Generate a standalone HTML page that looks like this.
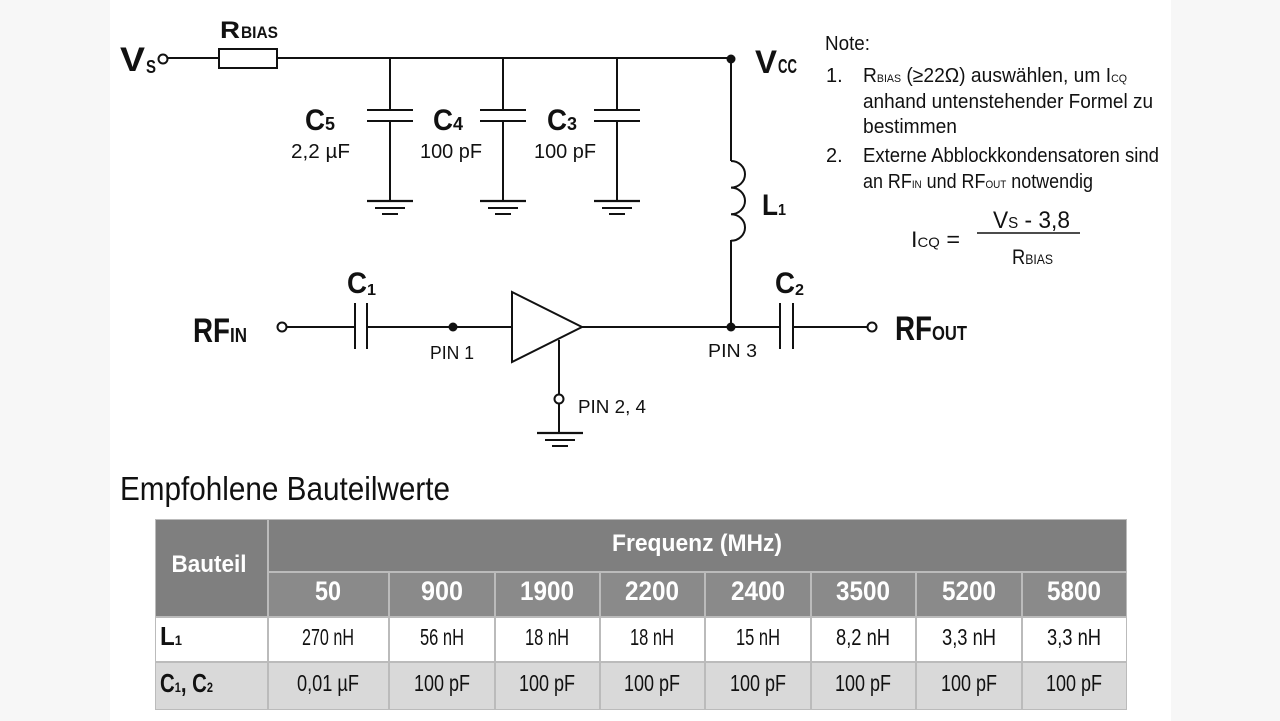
<!DOCTYPE html>
<html><head><meta charset="utf-8"><style>
html,body{margin:0;padding:0;background:#f7f7f7}
svg{display:block}
text{font-family:"Liberation Sans Narrow","Liberation Sans",sans-serif;fill:#111}
.b{font-weight:bold}
</style></head><body>
<svg width="1280" height="721" viewBox="0 0 1280 721" xmlns="http://www.w3.org/2000/svg">
<rect x="0" y="0" width="1280" height="721" fill="#f7f7f7"/>
<rect x="110" y="0" width="1061" height="721" fill="#fff"/>
<g stroke="#111" stroke-width="2" fill="none">
<circle cx="163" cy="59" r="4.5" fill="#fff"/>
<line x1="167.5" y1="58" x2="219" y2="58"/>
<rect x="219" y="49" width="58" height="19" fill="#fff"/>
<line x1="277" y1="58" x2="731" y2="58"/>
<g id="cap">
<line x1="390" y1="58" x2="390" y2="110"/>
<line x1="367" y1="110" x2="413" y2="110"/>
<line x1="367" y1="121" x2="413" y2="121"/>
<line x1="390" y1="121" x2="390" y2="201"/>
<line x1="367" y1="201" x2="413" y2="201" stroke-width="2.2"/>
<line x1="375" y1="208" x2="405" y2="208"/>
<line x1="382" y1="214" x2="398" y2="214"/>
</g>
<use href="#cap" x="113"/>
<use href="#cap" x="227"/>
<line x1="731" y1="58" x2="731" y2="161"/>
<path d="M731,161 a14,13.3 0 0 1 0,26.6 a14,13.3 0 0 1 0,26.6 a14,13.3 0 0 1 0,26.6"/>
<line x1="731" y1="240" x2="731" y2="327"/>
<circle cx="282" cy="327" r="4.5" fill="#fff"/>
<line x1="286.5" y1="327" x2="355" y2="327"/>
<line x1="355" y1="303" x2="355" y2="349"/>
<line x1="367" y1="303" x2="367" y2="349"/>
<line x1="367" y1="327" x2="512" y2="327"/>
<polygon points="512,292 582,327 512,362" fill="#fff"/>
<line x1="582" y1="327" x2="780" y2="327"/>
<line x1="780" y1="303" x2="780" y2="349"/>
<line x1="793" y1="303" x2="793" y2="349"/>
<line x1="793" y1="327" x2="868" y2="327"/>
<circle cx="872" cy="327" r="4.5" fill="#fff"/>
<line x1="559" y1="340" x2="559" y2="395"/>
<circle cx="559" cy="399" r="4.5" fill="#fff"/>
<line x1="559" y1="403.5" x2="559" y2="433"/>
<line x1="537" y1="433" x2="583" y2="433" stroke-width="2.2"/>
<line x1="545" y1="440" x2="575" y2="440"/>
<line x1="552" y1="446" x2="568" y2="446"/>
</g>
<g fill="#111">
<circle cx="731" cy="59" r="4.5"/>
<circle cx="453" cy="327" r="4.5"/>
<circle cx="731" cy="327" r="4.5"/>
</g>
<text x="120" y="71" class="b" font-size="34" textLength="25" lengthAdjust="spacingAndGlyphs">V</text>
<text x="146" y="73" class="b" font-size="18" textLength="10" lengthAdjust="spacingAndGlyphs">S</text>
<text x="220" y="38" class="b" font-size="24" textLength="20" lengthAdjust="spacingAndGlyphs">R</text>
<text x="241" y="38" class="b" font-size="17" textLength="37" lengthAdjust="spacingAndGlyphs">BIAS</text>
<text x="305" y="130" class="b" font-size="30" textLength="20" lengthAdjust="spacingAndGlyphs">C</text>
<text x="325" y="130" class="b" font-size="18" textLength="10" lengthAdjust="spacingAndGlyphs">5</text>
<text x="291" y="158" font-size="20" textLength="59" lengthAdjust="spacingAndGlyphs">2,2 µF</text>
<text x="433" y="130" class="b" font-size="30" textLength="20" lengthAdjust="spacingAndGlyphs">C</text>
<text x="453" y="130" class="b" font-size="18" textLength="10" lengthAdjust="spacingAndGlyphs">4</text>
<text x="420" y="158" font-size="20" textLength="62" lengthAdjust="spacingAndGlyphs">100 pF</text>
<text x="547" y="130" class="b" font-size="30" textLength="20" lengthAdjust="spacingAndGlyphs">C</text>
<text x="567" y="130" class="b" font-size="18" textLength="10" lengthAdjust="spacingAndGlyphs">3</text>
<text x="534" y="158" font-size="20" textLength="62" lengthAdjust="spacingAndGlyphs">100 pF</text>
<text x="755" y="73" class="b" font-size="32" textLength="22" lengthAdjust="spacingAndGlyphs">V</text>
<text x="778" y="73" class="b" font-size="20" textLength="19" lengthAdjust="spacingAndGlyphs">CC</text>
<text x="762" y="215" class="b" font-size="30" textLength="16" lengthAdjust="spacingAndGlyphs">L</text>
<text x="778" y="215" class="b" font-size="16" textLength="8" lengthAdjust="spacingAndGlyphs">1</text>
<text x="347" y="293" class="b" font-size="30" textLength="20" lengthAdjust="spacingAndGlyphs">C</text>
<text x="367" y="295" class="b" font-size="16" textLength="9" lengthAdjust="spacingAndGlyphs">1</text>
<text x="775" y="293" class="b" font-size="30" textLength="20" lengthAdjust="spacingAndGlyphs">C</text>
<text x="795" y="295" class="b" font-size="16" textLength="9" lengthAdjust="spacingAndGlyphs">2</text>
<text x="193" y="342" class="b" font-size="34" textLength="37" lengthAdjust="spacingAndGlyphs">RF</text>
<text x="230" y="342" class="b" font-size="20" textLength="17" lengthAdjust="spacingAndGlyphs">IN</text>
<text x="895" y="340" class="b" font-size="34" textLength="37" lengthAdjust="spacingAndGlyphs">RF</text>
<text x="932" y="340" class="b" font-size="20" textLength="35" lengthAdjust="spacingAndGlyphs">OUT</text>
<text x="430" y="359" font-size="18" textLength="44" lengthAdjust="spacingAndGlyphs">PIN 1</text>
<text x="708" y="357" font-size="18" textLength="49" lengthAdjust="spacingAndGlyphs">PIN 3</text>
<text x="578" y="413" font-size="18" textLength="68" lengthAdjust="spacingAndGlyphs">PIN 2, 4</text>
<text x="825" y="50" font-size="20" textLength="45" lengthAdjust="spacingAndGlyphs">Note:</text>
<text x="826" y="82" font-size="20">1.</text>
<text x="863" y="82" font-size="20" textLength="264" lengthAdjust="spacingAndGlyphs">R<tspan font-size="11">BIAS</tspan> (≥22Ω) auswählen, um I<tspan font-size="11">CQ</tspan></text>
<text x="863" y="108" font-size="20" textLength="290" lengthAdjust="spacingAndGlyphs">anhand  untenstehender Formel zu</text>
<text x="863" y="133" font-size="20" textLength="94" lengthAdjust="spacingAndGlyphs">bestimmen</text>
<text x="826" y="162" font-size="20">2.</text>
<text x="863" y="162" font-size="20" textLength="296" lengthAdjust="spacingAndGlyphs">Externe Abblockkondensatoren sind</text>
<text x="863" y="188" font-size="20" textLength="230" lengthAdjust="spacingAndGlyphs">an RF<tspan font-size="11">IN</tspan> und RF<tspan font-size="11">OUT</tspan> notwendig</text>
<text x="911" y="247" font-size="22" textLength="49" lengthAdjust="spacingAndGlyphs">I<tspan font-size="14">CQ</tspan> =</text>
<line x1="977" y1="233" x2="1080" y2="233" stroke="#111" stroke-width="1.5"/>
<text x="993" y="228" font-size="24" textLength="77" lengthAdjust="spacingAndGlyphs">V<tspan font-size="16">S</tspan> - 3,8</text>
<text x="1012" y="264" font-size="21" textLength="41" lengthAdjust="spacingAndGlyphs">R<tspan font-size="14">BIAS</tspan></text>
<text x="120" y="500" font-size="33" textLength="330" lengthAdjust="spacingAndGlyphs">Empfohlene Bauteilwerte</text>
<rect x="155" y="519" width="972" height="191" fill="#bbb"/>
<rect x="156" y="520" width="111" height="96" fill="#7f7f7f"/>
<rect x="269" y="520" width="857" height="51" fill="#7f7f7f"/>
<g fill="#8a8a8a">
<rect x="269" y="573" width="119" height="43"/>
<rect x="390" y="573" width="104" height="43"/>
<rect x="496" y="573" width="103" height="43"/>
<rect x="601" y="573" width="103" height="43"/>
<rect x="706" y="573" width="104" height="43"/>
<rect x="812" y="573" width="103" height="43"/>
<rect x="917" y="573" width="104" height="43"/>
<rect x="1023" y="573" width="103" height="43"/>
</g>
<g fill="#fff">
<rect x="156" y="618" width="111" height="43"/>
<rect x="269" y="618" width="119" height="43"/>
<rect x="390" y="618" width="104" height="43"/>
<rect x="496" y="618" width="103" height="43"/>
<rect x="601" y="618" width="103" height="43"/>
<rect x="706" y="618" width="104" height="43"/>
<rect x="812" y="618" width="103" height="43"/>
<rect x="917" y="618" width="104" height="43"/>
<rect x="1023" y="618" width="103" height="43"/>
</g>
<g fill="#d9d9d9">
<rect x="156" y="663" width="111" height="46"/>
<rect x="269" y="663" width="119" height="46"/>
<rect x="390" y="663" width="104" height="46"/>
<rect x="496" y="663" width="103" height="46"/>
<rect x="601" y="663" width="103" height="46"/>
<rect x="706" y="663" width="104" height="46"/>
<rect x="812" y="663" width="103" height="46"/>
<rect x="917" y="663" width="104" height="46"/>
<rect x="1023" y="663" width="103" height="46"/>
</g>
<g text-anchor="middle">
<text x="209" y="572" style="fill:#fff" class="b" font-size="24" textLength="75" lengthAdjust="spacingAndGlyphs">Bauteil</text>
<text x="697" y="551" style="fill:#fff" class="b" font-size="24" textLength="170" lengthAdjust="spacingAndGlyphs">Frequenz (MHz)</text>
<text x="328" y="600" style="fill:#fff" class="b" font-size="27" textLength="26" lengthAdjust="spacingAndGlyphs">50</text>
<text x="442" y="600" style="fill:#fff" class="b" font-size="27" textLength="42" lengthAdjust="spacingAndGlyphs">900</text>
<text x="547" y="600" style="fill:#fff" class="b" font-size="27" textLength="54" lengthAdjust="spacingAndGlyphs">1900</text>
<text x="652" y="600" style="fill:#fff" class="b" font-size="27" textLength="54" lengthAdjust="spacingAndGlyphs">2200</text>
<text x="758" y="600" style="fill:#fff" class="b" font-size="27" textLength="54" lengthAdjust="spacingAndGlyphs">2400</text>
<text x="863" y="600" style="fill:#fff" class="b" font-size="27" textLength="54" lengthAdjust="spacingAndGlyphs">3500</text>
<text x="969" y="600" style="fill:#fff" class="b" font-size="27" textLength="54" lengthAdjust="spacingAndGlyphs">5200</text>
<text x="1074" y="600" style="fill:#fff" class="b" font-size="27" textLength="54" lengthAdjust="spacingAndGlyphs">5800</text>
</g>
<text x="160" y="645" class="b" font-size="26" textLength="22" lengthAdjust="spacingAndGlyphs">L<tspan font-size="14">1</tspan></text>
<text x="160" y="692" class="b" font-size="26" textLength="53" lengthAdjust="spacingAndGlyphs">C<tspan font-size="14">1</tspan>, C<tspan font-size="14">2</tspan></text>
<g font-size="23" text-anchor="middle">
<text x="328" y="645" textLength="52" lengthAdjust="spacingAndGlyphs">270 nH</text>
<text x="442" y="645" textLength="44" lengthAdjust="spacingAndGlyphs">56 nH</text>
<text x="547" y="645" textLength="44" lengthAdjust="spacingAndGlyphs">18 nH</text>
<text x="652" y="645" textLength="44" lengthAdjust="spacingAndGlyphs">18 nH</text>
<text x="758" y="645" textLength="44" lengthAdjust="spacingAndGlyphs">15 nH</text>
<text x="863" y="645" textLength="54" lengthAdjust="spacingAndGlyphs">8,2 nH</text>
<text x="969" y="645" textLength="54" lengthAdjust="spacingAndGlyphs">3,3 nH</text>
<text x="1074" y="645" textLength="54" lengthAdjust="spacingAndGlyphs">3,3 nH</text>
<text x="328" y="691" textLength="62" lengthAdjust="spacingAndGlyphs">0,01 µF</text>
<text x="442" y="691" textLength="56" lengthAdjust="spacingAndGlyphs">100 pF</text>
<text x="547" y="691" textLength="56" lengthAdjust="spacingAndGlyphs">100 pF</text>
<text x="652" y="691" textLength="56" lengthAdjust="spacingAndGlyphs">100 pF</text>
<text x="758" y="691" textLength="56" lengthAdjust="spacingAndGlyphs">100 pF</text>
<text x="863" y="691" textLength="56" lengthAdjust="spacingAndGlyphs">100 pF</text>
<text x="969" y="691" textLength="56" lengthAdjust="spacingAndGlyphs">100 pF</text>
<text x="1074" y="691" textLength="56" lengthAdjust="spacingAndGlyphs">100 pF</text>
</g>
</svg>
</body></html>
